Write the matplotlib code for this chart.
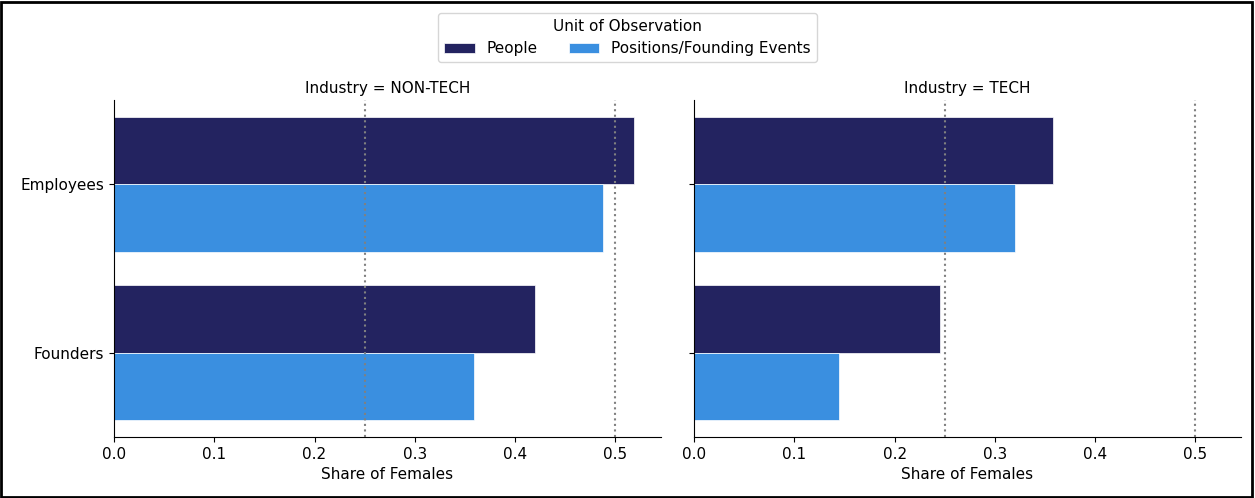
import matplotlib
matplotlib.use("Agg")
import matplotlib.pyplot as plt
import numpy as np
from matplotlib.patches import Rectangle

industries = ["NON-TECH", "TECH"]
roles = ["Employees", "Founders"]
series = ["People", "Positions/Founding Events"]
people = {"NON-TECH": [0.519, 0.420], "TECH": [0.358, 0.2455]}
positions = {"NON-TECH": [0.488, 0.359], "TECH": [0.320, 0.145]}
colors = ["#232360", "#3a8fe0"]
xticks = [0.0, 0.1, 0.2, 0.3, 0.4, 0.5]
ref_lines = [0.25, 0.5]

FS = 11
fig = plt.figure(figsize=(12.55, 4.98), dpi=100)
ax1 = fig.add_axes([0.0908, 0.1225, 0.4355, 0.6765])
ax2 = fig.add_axes([0.5530, 0.1225, 0.4355, 0.6765], sharey=ax1)

y = np.arange(len(roles))
h = 0.4
for ax, ind in zip([ax1, ax2], industries):
    ax.barh(y - h / 2, people[ind], height=h, color=colors[0], edgecolor="white",
            linewidth=0.5, label=series[0])
    ax.barh(y + h / 2, positions[ind], height=h, color=colors[1], edgecolor="white",
            linewidth=0.5, label=series[1])
    for v in ref_lines:
        ax.axvline(v, color="grey", linestyle=":", linewidth=1.5, zorder=5)
    ax.set_xlim(0, 0.545)
    ax.set_ylim(1.5, -0.5)
    ax.set_xticks(xticks)
    ax.set_xticklabels([f"{t:.1f}" for t in xticks])
    ax.set_yticks(y)
    ax.set_yticklabels(roles)
    ax.set_xlabel("Share of Females", fontsize=FS)
    ax.set_title(f"Industry = {ind}", fontsize=FS, pad=5)
    ax.spines["top"].set_visible(False)
    ax.spines["right"].set_visible(False)
    ax.tick_params(labelsize=FS)
plt.setp(ax2.get_yticklabels(), visible=False)

handles, labels = ax1.get_legend_handles_labels()
fig.legend(handles, labels, title="Unit of Observation", ncol=2,
           loc="upper center", bbox_to_anchor=(0.5, 0.99), fontsize=FS,
           title_fontsize=FS, frameon=True)

fig.patches.append(Rectangle((0.001, 0.002), 0.997, 0.994, transform=fig.transFigure,
                             fill=False, edgecolor="black", linewidth=2))

fig.savefig("out.png", dpi=100)
